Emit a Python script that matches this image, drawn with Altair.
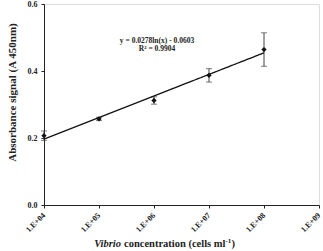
import altair as alt
import pandas as pd

conc = [1e4, 1e5, 1e6, 1e7, 1e8]
absorb = [0.207, 0.257, 0.312, 0.387, 0.464]
err = [0.014, 0.005, 0.011, 0.020, 0.050]
tick_vals = [1e4, 1e5, 1e6, 1e7, 1e8, 1e9]
eq_text = ["y = 0.0278ln(x) - 0.0603", "R² = 0.9904"]

df = pd.DataFrame({"conc": conc, "abs": absorb, "err": err})
df["lo"] = df["abs"] - df["err"]
df["hi"] = df["abs"] + df["err"]

FONT = "Liberation Serif"
INK = "#222"

xscale = alt.Scale(type="log", domain=[1e4, 1e9])
yscale = alt.Scale(domain=[0, 0.6])

xaxis = alt.Axis(values=tick_vals, labelExpr="'1.E+0' + format(log(datum.value)/log(10), '.0f')",
                 labelAngle=-45, labelAlign="right", labelBaseline="middle", labelFont=FONT,
                 labelFontWeight="bold", labelFontSize=8, labelColor=INK, grid=False,
                 domainColor=INK, tickColor=INK, tickSize=3, title=None, labelPadding=6,
                 labelFlush=False, labelOverlap=False)
yaxis = alt.Axis(values=[0, 0.1, 0.2, 0.3, 0.4, 0.5, 0.6], format=".1f", labelFont=FONT,
                 labelFontWeight="bold", labelFontSize=8, labelColor=INK, grid=False,
                 domainColor=INK, tickColor=INK, tickSize=3, labelPadding=4,
                 title="Absorbance signal (A 450nm)", titleFont=FONT, titleFontSize=11,
                 titleFontWeight="bold", titleColor=INK, titleX=-32, titleY=88,
                 titleBaseline="middle", titleAlign="center", titleAngle=270)

base = alt.Chart(df)

err_rule = base.mark_rule(color="#444", strokeWidth=1).encode(
    x=alt.X("conc:Q", scale=xscale, axis=xaxis),
    y=alt.Y("lo:Q", scale=yscale, axis=yaxis), y2="hi:Q")
caps_lo = base.mark_tick(color="#444", width=6, thickness=1, orient="horizontal").encode(
    x=alt.X("conc:Q", scale=xscale), y=alt.Y("lo:Q", scale=yscale))
caps_hi = base.mark_tick(color="#444", width=6, thickness=1, orient="horizontal").encode(
    x=alt.X("conc:Q", scale=xscale), y=alt.Y("hi:Q", scale=yscale))

trend = base.transform_regression("conc", "abs", method="log").mark_line(
    color="#111", strokeWidth=1.3).encode(
    x=alt.X("conc:Q", scale=xscale), y=alt.Y("abs:Q", scale=yscale))

pts = base.mark_point(shape="diamond", filled=True, color="#111", size=28, opacity=1).encode(
    x=alt.X("conc:Q", scale=xscale), y=alt.Y("abs:Q", scale=yscale))


def label(txt, x, y, size, style="normal", align="center", baseline="middle"):
    return alt.Chart(pd.DataFrame({"t": [txt]})).mark_text(
        font=FONT, fontSize=size, fontWeight="bold", fontStyle=style, color=INK,
        align=align, baseline=baseline).encode(
        text="t:N", x=alt.value(x), y=alt.value(y))


eq1 = label(eq_text[0], 113, 37, 7.5)
eq2 = label(eq_text[1], 113, 45, 7.5)

xt1 = label("Vibrio", 77, 242.5, 10.5, style="italic", align="right", baseline="alphabetic")
xt2 = label("concentration (cells ml", 80, 242.5, 10.5, align="left", baseline="alphabetic")
xt3 = label("-1", 181.5, 238.5, 7, align="left", baseline="alphabetic")
xt4 = label(")", 187.5, 242.5, 10.5, align="left", baseline="alphabetic")

chart = alt.layer(err_rule, caps_lo, caps_hi, trend, pts, eq1, eq2, xt1, xt2, xt3, xt4).properties(
    width=275, height=201,
    autosize=alt.AutoSizeParams(type="none"),
    padding={"left": 44, "top": 4, "right": 4, "bottom": 46},
).configure_view(stroke=None).configure(background="white")

chart.save("out.html", embed_options={"renderer": "svg", "actions": False})
